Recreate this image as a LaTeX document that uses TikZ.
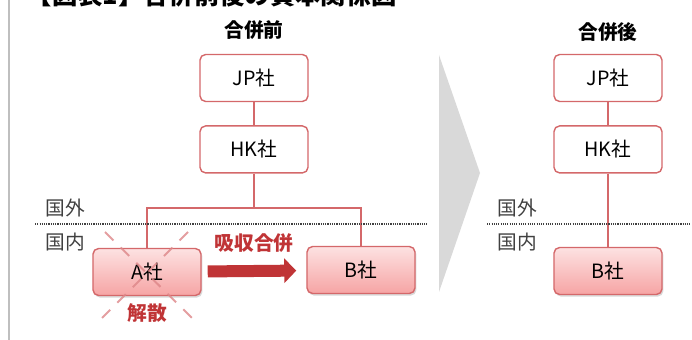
\documentclass[tikz,border=0pt]{standalone}
\usepackage{fontspec}
\setmainfont{Noto Sans CJK JP}
\usepackage{xcolor}
\usetikzlibrary{arrows.meta, positioning, shadows}
\definecolor{boxred}{RGB}{212,104,106}
\definecolor{arrowred}{RGB}{192,52,54}
\definecolor{pinktop}{RGB}{253,226,226}
\definecolor{pinkbot}{RGB}{246,164,164}
\definecolor{labelgray}{RGB}{64,64,64}

\begin{document}
\begin{tikzpicture}[
    x=0.025cm, y=-0.025cm,
    box/.style={draw=boxred, line width=1pt, rounded corners=4pt, fill=white,
        minimum width=2.7cm, minimum height=1.175cm,
        font=\fontsize{14}{16}\selectfont},
    pinkbox/.style={box, top color=pinktop, bottom color=pinkbot,
        drop shadow={shadow xshift=1pt, shadow yshift=-1.5pt, opacity=0.3}},
    link/.style={draw=boxred, line width=1pt},
    head/.style={font=\bfseries\fontsize{14}{16}\selectfont},
    zone/.style={text=labelgray, font=\fontsize{14}{16}\selectfont},
    border/.style={draw=labelgray, line width=1.5pt, dash pattern=on 0.8pt off 0.8pt},
    redtext/.style={text=arrowred, font=\bfseries\fontsize{14}{16}\selectfont},
    node distance=0.575cm
]
    \clip (0,0) rectangle (692,340);

    % Title (cut off at top)
    \draw[gray!50, line width=1.5pt] (9,0) -- (9,340);
    \node[anchor=base west, font=\bfseries\fontsize{18}{20}\selectfont] (title) at (22,5) {【図表1】合併前後の資本関係図};

    % Before merger
    \node[head] (before) at (254,30) {合併前};
    \node[box] (jp) at (254,78) {JP社};
    \node[box, below=of jp] (hk) {HK社};
    \node[pinkbox] (a) at (147,272) {A社};
    \node[pinkbox] (b) at (361,270) {B社};
    \coordinate (branch) at (254,208);

    \draw[link] (jp) -- (hk);
    \draw[link] (hk) -- (branch);
    \draw[link] (branch) -| (a.north);
    \draw[link] (branch) -| (b.north);

    % Domestic / overseas
    \draw[border] (35,224) -- (427,224);
    \node[zone] (out1) at (65,208) {国外};
    \node[zone] (in1) at (65,242) {国内};

    % Merger arrow
    \draw[arrowred, line width=0.3cm, shorten <=0.15cm, shorten >=0.25cm,
        -{Triangle[length=0.3cm, width=0.6cm]}] (a) -- node[redtext, above=0.2cm]{吸収合併} (b);

    % Dissolved
    \draw[boxred!80, line width=1.4pt, dash pattern=on 0.3cm off 0.25cm, opacity=0.8]
        ([shift={(-42,-40)}]a.center) -- ([shift={(45,46)}]a.center);
    \draw[boxred!80, line width=1.4pt, dash pattern=on 0.3cm off 0.25cm, opacity=0.8]
        ([shift={(41,-40)}]a.center) -- ([shift={(-45,46)}]a.center);
    \node[redtext, below=0.05cm of a] (gone) {解散};

    % Big chevron
    \fill[gray!30] (439,55) -- (480,173) -- (439,292) -- cycle;

    % After merger
    \node[head] (after) at (608,32) {合併後};
    \node[box] (jp2) at (608,78) {JP社};
    \node[box, below=of jp2] (hk2) {HK社};
    \node[pinkbox] (b2) at (608,271) {B社};

    \draw[link] (jp2) -- (hk2);
    \draw[link] (hk2) -- (b2);

    \draw[border] (487,224) -- (690,224);
    \node[zone] (out2) at (517,208) {国外};
    \node[zone] (in2) at (517,242) {国内};
\end{tikzpicture}
\end{document}
